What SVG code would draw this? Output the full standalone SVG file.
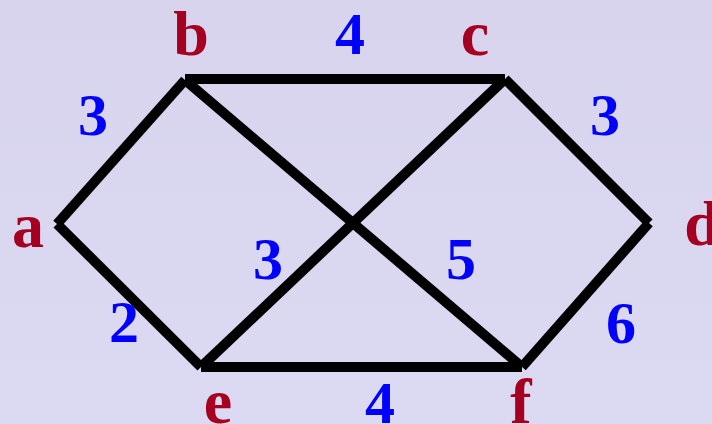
<svg xmlns="http://www.w3.org/2000/svg" width="712" height="424" viewBox="0 0 712 424">
<style>
.edge{stroke:#000;stroke-width:10;stroke-linecap:butt;fill:none}
.lbl{font-family:"Liberation Serif","Times New Roman",serif;font-weight:bold;font-size:64px;fill:#a50021;text-anchor:middle}
.w{font-family:"Liberation Serif","Times New Roman",serif;font-weight:bold;font-size:60px;fill:#0000ff;text-anchor:middle}
</style>
<defs>
<linearGradient id="bg" x1="0" y1="0" x2="0" y2="1">
<stop offset="0" stop-color="#d8d4ee"/>
<stop offset="1" stop-color="#dcd9f2"/>
</linearGradient>
</defs>
<rect width="712" height="424" fill="url(#bg)"/>
<g id="connectors">
<line class="edge" x1="57" y1="224" x2="185" y2="80"/>
<line class="edge" x1="185" y1="79" x2="505" y2="79"/>
<line class="edge" x1="505" y1="79" x2="649" y2="223"/>
<line class="edge" x1="649" y1="223" x2="522" y2="367"/>
<line class="edge" x1="522" y1="367" x2="201" y2="367"/>
<line class="edge" x1="201" y1="367" x2="57" y2="224"/>
<line class="edge" x1="185" y1="80" x2="522" y2="367"/>
<line class="edge" x1="505" y1="79" x2="201" y2="367"/>
<text class="w" x="93" y="135">3</text>
<text class="w" x="350" y="54">4</text>
<text class="w" x="605" y="135">3</text>
<text class="w" x="124" y="342">2</text>
<text class="w" x="268" y="279">3</text>
<text class="w" x="461" y="279">5</text>
<text class="w" x="621" y="343">6</text>
<text class="w" x="380" y="423">4</text>
</g>
<g id="node-a"><text class="lbl" x="28" y="247">a</text></g>
<g id="node-b"><text class="lbl" x="191" y="55">b</text></g>
<g id="node-c"><text class="lbl" x="475" y="55">c</text></g>
<g id="node-d"><text class="lbl" x="702" y="245">d</text></g>
<g id="node-e"><text class="lbl" x="218" y="423">e</text></g>
<g id="node-f"><text class="lbl" x="521" y="423">f</text></g>
</svg>
